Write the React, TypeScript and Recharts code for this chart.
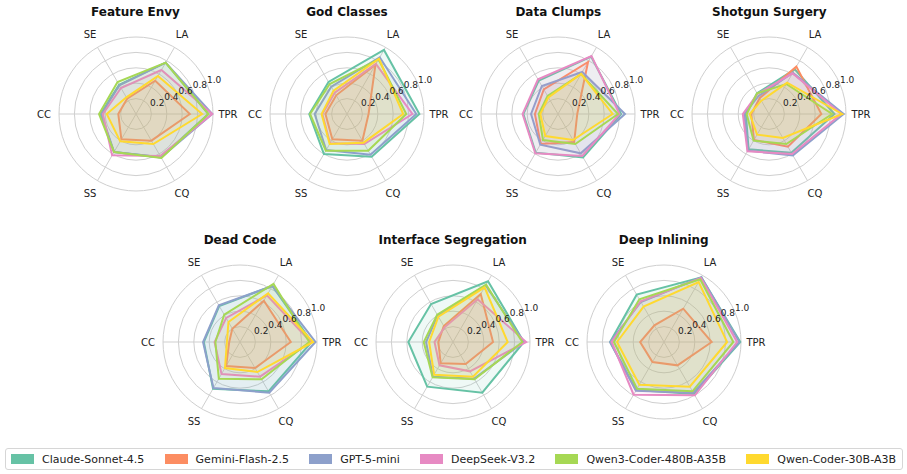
import { RadarChart, Radar, PolarGrid, PolarAngleAxis, PolarRadiusAxis } from 'recharts';

const AXES = ['TPR', 'LA', 'SE', 'CC', 'SS', 'CQ'];
const MODELS = ['Claude-Sonnet-4.5', 'Gemini-Flash-2.5', 'GPT-5-mini', 'DeepSeek-V3.2', 'Qwen3-Coder-480B-A35B', 'Qwen-Coder-30B-A3B'];
const COLORS = ['#66c2a5', '#fc8d62', '#8da0cb', '#e78ac3', '#a6d854', '#ffd92f'];
const RADIUS_TICKS = [0.2, 0.4, 0.6, 0.8, 1.0];

// one row per model (MODELS order), columns in AXES order
const FEATURE_ENVY = [
  [0.94, 0.77, 0.44, 0.46, 0.57, 0.65],
  [0.70, 0.50, 0.23, 0.23, 0.38, 0.40],
  [0.99, 0.77, 0.43, 0.45, 0.57, 0.65],
  [0.99, 0.66, 0.39, 0.43, 0.62, 0.63],
  [0.94, 0.77, 0.48, 0.48, 0.57, 0.66],
  [0.86, 0.57, 0.25, 0.38, 0.41, 0.45],
];
const GOD_CLASSES = [
  [0.94, 0.96, 0.48, 0.49, 0.60, 0.64],
  [0.28, 0.74, 0.28, 0.28, 0.38, 0.40],
  [0.90, 0.85, 0.41, 0.42, 0.54, 0.61],
  [0.85, 0.75, 0.32, 0.32, 0.44, 0.45],
  [0.77, 0.82, 0.45, 0.48, 0.55, 0.55],
  [0.73, 0.83, 0.35, 0.33, 0.45, 0.43],
];
const DATA_CLUMPS = [
  [0.82, 0.86, 0.50, 0.45, 0.58, 0.65],
  [0.25, 0.78, 0.37, 0.30, 0.45, 0.42],
  [0.87, 0.63, 0.42, 0.35, 0.46, 0.59],
  [0.80, 0.87, 0.52, 0.46, 0.59, 0.63],
  [0.78, 0.60, 0.27, 0.25, 0.39, 0.45],
  [0.71, 0.60, 0.25, 0.23, 0.33, 0.39],
];
const SHOTGUN_SURGERY = [
  [0.85, 0.67, 0.31, 0.30, 0.53, 0.58],
  [0.68, 0.71, 0.24, 0.23, 0.39, 0.49],
  [0.97, 0.62, 0.27, 0.32, 0.55, 0.62],
  [0.94, 0.61, 0.30, 0.34, 0.56, 0.60],
  [0.82, 0.45, 0.31, 0.29, 0.40, 0.45],
  [0.95, 0.47, 0.20, 0.25, 0.31, 0.36],
];
const DEAD_CODE = [
  [0.93, 0.84, 0.54, 0.47, 0.70, 0.74],
  [0.66, 0.62, 0.20, 0.14, 0.36, 0.39],
  [0.98, 0.84, 0.55, 0.48, 0.69, 0.76],
  [0.92, 0.70, 0.36, 0.33, 0.48, 0.52],
  [0.90, 0.87, 0.41, 0.32, 0.55, 0.56],
  [0.95, 0.73, 0.30, 0.17, 0.39, 0.45],
];
const INTERFACE_SEGREGATION = [
  [0.92, 0.91, 0.57, 0.58, 0.67, 0.76],
  [0.52, 0.72, 0.24, 0.19, 0.32, 0.33],
  [0.92, 0.85, 0.40, 0.35, 0.52, 0.55],
  [0.95, 0.64, 0.22, 0.24, 0.35, 0.44],
  [0.90, 0.86, 0.41, 0.38, 0.53, 0.56],
  [0.71, 0.82, 0.38, 0.31, 0.49, 0.52],
];
const DEEP_INLINING = [
  [0.99, 0.97, 0.71, 0.70, 0.72, 0.78],
  [0.62, 0.50, 0.25, 0.31, 0.30, 0.35],
  [0.98, 0.97, 0.60, 0.70, 0.73, 0.76],
  [0.95, 0.96, 0.61, 0.68, 0.79, 0.80],
  [0.90, 0.94, 0.64, 0.65, 0.70, 0.74],
  [0.82, 0.90, 0.53, 0.61, 0.64, 0.67],
];

const SIZE = 230;
const RADIUS = 77;
const FONT = '"DejaVu Sans", sans-serif';

const PANELS = [
  { title: 'Feature Envy', values: FEATURE_ENVY, cx: 135.5, cy: 113.7 },
  { title: 'God Classes', values: GOD_CLASSES, cx: 347, cy: 113.7 },
  { title: 'Data Clumps', values: DATA_CLUMPS, cx: 558.3, cy: 113.7 },
  { title: 'Shotgun Surgery', values: SHOTGUN_SURGERY, cx: 769.3, cy: 113.7 },
  { title: 'Dead Code', values: DEAD_CODE, cx: 240, cy: 341.7 },
  { title: 'Interface Segregation', values: INTERFACE_SEGREGATION, cx: 452.7, cy: 341.7 },
  { title: 'Deep Inlining', values: DEEP_INLINING, cx: 663.7, cy: 341.7 },
];

const AngleTick = (props: any) => {
  const { x, y, payload } = props;
  return (
    <text x={x} y={y} textAnchor="middle" dominantBaseline="central" fontSize={10} fill="#222" fontFamily={FONT}>
      {payload.value}
    </text>
  );
};

const RadiusTick = (props: any) => {
  const { x, y, payload } = props;
  if (!payload.value) return <g />;
  return (
    <text x={x + 7} y={y - 5} textAnchor="middle" dominantBaseline="central" fontSize={9} fill="#222" fontFamily={FONT}>
      {Number(payload.value).toFixed(1)}
    </text>
  );
};

function SmellRadar({ title, values, cx, cy }: { title: string; values: number[][]; cx: number; cy: number }) {
  const rows = AXES.map((axis, i) => {
    const row: Record<string, any> = { axis };
    MODELS.forEach((_, m) => {
      row[`m${m}`] = values[m][i];
    });
    return row;
  });
  // axes run counter-clockwise from TPR; the chart goes clockwise, so flip the tail
  const data = [rows[0], ...rows.slice(1).reverse()];

  return (
    <div style={{ position: 'absolute', left: cx - SIZE / 2, top: cy - SIZE / 2, width: SIZE, height: SIZE }}>
      <RadarChart
        width={SIZE}
        height={SIZE}
        cx={SIZE / 2}
        cy={SIZE / 2}
        outerRadius={RADIUS}
        startAngle={0}
        endAngle={-360}
        data={data}
        margin={{ top: 0, right: 0, bottom: 0, left: 0 }}
      >
        <PolarGrid gridType="circle" stroke="#cfcfcf" />
        <PolarAngleAxis dataKey="axis" tick={AngleTick} tickLine={false} axisLine={false} tickSize={15} />
        <PolarRadiusAxis
          angle={22.5}
          type="number"
          domain={[0, 1]}
          ticks={RADIUS_TICKS}
          tick={RadiusTick}
          axisLine={false}
          tickLine={false}
        />
        {MODELS.map((name, m) => (
          <Radar
            key={name}
            name={name}
            dataKey={`m${m}`}
            stroke={COLORS[m]}
            fill={COLORS[m]}
            fillOpacity={0.1}
            strokeWidth={2}
            dot={false}
            isAnimationActive={false}
          />
        ))}
      </RadarChart>
      <div
        style={{
          position: 'absolute',
          left: 0,
          top: SIZE / 2 - 101.5 - 8,
          width: SIZE,
          lineHeight: '16px',
          textAlign: 'center',
          fontWeight: 'bold',
          fontSize: 12,
          fontFamily: FONT,
          color: '#111',
        }}
      >
        {title}
      </div>
    </div>
  );
}

export default function App() {
  return (
    <div style={{ position: 'absolute', left: 0, top: 0, width: 907, height: 474, background: '#fff', fontFamily: FONT }}>
      {PANELS.map((p) => (
        <SmellRadar key={p.title} {...p} />
      ))}
      <div
        style={{
          position: 'absolute',
          left: 5,
          top: 448,
          width: 898,
          height: 22,
          boxSizing: 'border-box',
          border: '1px solid #d6d6d6',
          borderRadius: 3,
          display: 'flex',
          alignItems: 'center',
          justifyContent: 'space-between',
          padding: '0 6px 0 5px',
          fontSize: 11,
          color: '#222',
        }}
      >
        {MODELS.map((name, m) => (
          <div key={name} style={{ display: 'flex', alignItems: 'center' }}>
            <span style={{ display: 'inline-block', width: 23, height: 10, background: COLORS[m], marginRight: 8 }} />
            <span>{name}</span>
          </div>
        ))}
      </div>
    </div>
  );
}
